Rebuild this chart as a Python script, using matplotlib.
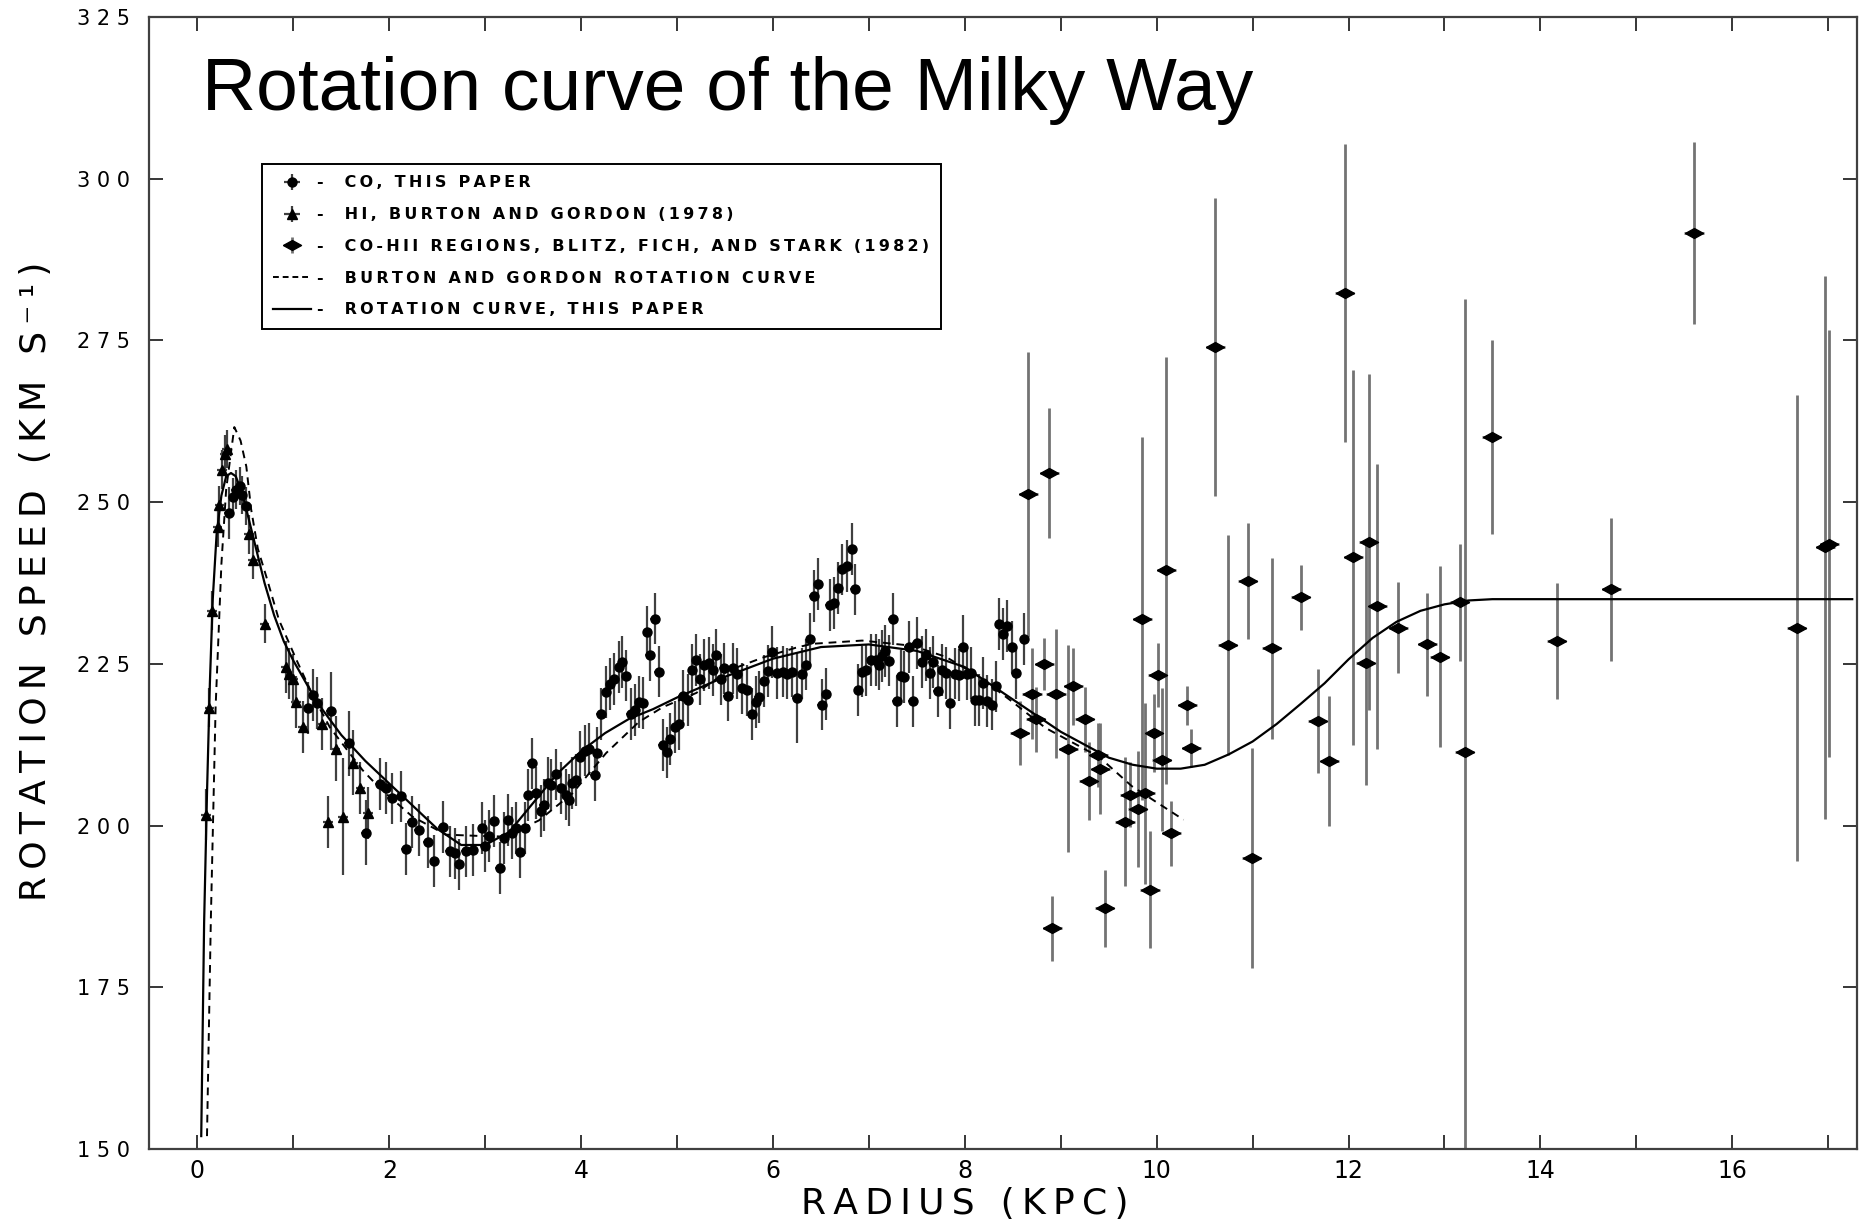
import matplotlib
matplotlib.use("Agg")
import matplotlib.pyplot as plt
from matplotlib.lines import Line2D

# Rotation curve, this paper (solid line)
curve_r = [0.04, 0.07, 0.10, 0.13, 0.16, 0.20, 0.25, 0.30, 0.35, 0.40, 0.45, 0.50,
           0.60, 0.70, 0.80, 0.90, 1.00, 1.25, 1.50, 1.75, 2.00, 2.25, 2.50, 2.75,
           3.00, 3.25, 3.50, 3.75, 4.00, 4.25, 4.50, 4.75, 5.00, 5.50, 6.00, 6.50,
           7.00, 7.50, 8.00, 8.50, 9.00, 9.50, 9.75, 10.00, 10.25, 10.50, 10.75,
           11.00, 11.25, 11.50, 11.75, 12.00, 12.25, 12.50, 12.75, 13.00, 13.25,
           13.50, 17.25]
curve_v = [152, 185, 205, 222, 235, 245, 251, 254, 254.5, 254, 252, 249.5,
           243.5, 237.5, 232.5, 228.5, 225.5, 219, 214, 210, 206.5, 203, 199.5, 197.0,
           197.0, 199.0, 203.5, 208, 211.5, 214.3, 216.5, 218, 219.8, 223, 225.8, 227.6,
           228.0, 227, 224.5, 219.5, 214.5, 210.5, 209.4, 208.8, 208.8, 209.4, 211.0,
           213, 215.7, 218.8, 222, 225.7, 229, 231.5, 233.2, 234.2, 234.8,
           235, 235]

# Burton and Gordon rotation curve (dashed line)
bg_r = [0.10, 0.14, 0.19, 0.25, 0.30, 0.385, 0.45, 0.51, 0.56, 0.63, 0.72, 0.85,
        1.03, 1.20, 1.38, 1.55, 1.72, 1.90, 2.24, 2.59, 2.94, 3.21, 3.56, 3.91,
        4.26, 4.60, 4.85, 5.20, 5.54, 5.90, 6.24, 6.41, 6.93, 7.45, 7.80, 8.15,
        8.49, 8.84, 9.19, 9.40, 9.74, 10.28]
bg_v = [152, 185.4, 218.4, 240.4, 252, 261.6, 259.5, 255.5, 248.9, 242.8, 238.4, 231.8,
        225.7, 220.2, 215.2, 211.9, 208.6, 205.8, 201.4, 198.6, 198.4, 198.3, 200.8, 205,
        211.2, 216, 218.3, 220.5, 224, 226, 227.5, 228.1, 228.6, 227.8, 226.1, 223,
        219.2, 215.1, 212.3, 210.6, 206.1, 200.9]

# CO, this paper
co_r = [0.33, 0.37, 0.40, 0.44, 0.47, 0.51, 1.15, 1.20, 1.25, 1.39, 1.58, 1.76,
        1.90, 1.97, 2.03, 2.12, 2.17, 2.24, 2.31, 2.40, 2.47, 2.56, 2.63, 2.69,
        2.73, 2.80, 2.87,
        2.97, 3.00, 3.04, 3.09, 3.15, 3.20, 3.24, 3.28, 3.32, 3.36, 3.41, 3.45,
        3.49, 3.53, 3.58, 3.61, 3.65, 3.69, 3.74, 3.79, 3.84, 3.87, 3.91, 3.95,
        3.99, 4.04, 4.08, 4.14, 4.17, 4.21, 4.26, 4.30, 4.34, 4.39, 4.43, 4.47,
        4.52, 4.56, 4.60, 4.65, 4.69, 4.72, 4.77, 4.81, 4.85, 4.89, 4.93, 4.98,
        5.02, 5.06, 5.11, 5.16, 5.20, 5.24, 5.28, 5.33, 5.37, 5.41, 5.46, 5.49,
        5.53, 5.58, 5.63, 5.68, 5.73, 5.78, 5.82, 5.85, 5.91, 5.95, 5.99, 6.04,
        6.10, 6.15, 6.20, 6.25, 6.30, 6.34, 6.39, 6.43, 6.47, 6.51, 6.55, 6.59,
        6.64, 6.68, 6.72, 6.77, 6.82, 6.85, 6.89, 6.93, 6.97, 7.02, 7.07, 7.10,
        7.14, 7.17, 7.21, 7.25, 7.29, 7.33, 7.37, 7.42, 7.46, 7.50, 7.55, 7.59,
        7.64, 7.67, 7.72, 7.76, 7.80, 7.85, 7.90, 7.94, 7.98, 8.02, 8.06, 8.11,
        8.15, 8.19, 8.23, 8.28, 8.32, 8.36, 8.40, 8.44, 8.49, 8.53, 8.62]
co_v = [248.3, 250.8, 251.9, 252.5, 251.1, 249.4, 218.2, 220.2, 219.0, 217.7, 212.7, 198.9,
        206.4, 205.8, 204.2, 204.5, 196.4, 200.6, 199.3, 197.5, 194.5, 199.8, 196.0, 195.7,
        194.0, 196.0, 196.2,
        199.6, 196.8, 198.4, 200.7, 193.4, 198.1, 200.9, 198.9, 199.6, 195.9, 199.6, 204.7,
        209.6, 205.0, 202.2, 203.2, 206.6, 206.3, 207.9, 205.8, 204.8, 204.0, 206.6, 207.1,
        210.6, 211.6, 211.8, 207.8, 211.2, 217.3, 220.7, 221.9, 222.7, 224.5, 225.3, 223.2,
        217.3, 217.9, 219.1, 218.9, 230.0, 226.4, 232.0, 223.8, 212.4, 211.3, 213.4, 215.2,
        215.7, 220.1, 219.4, 224.0, 225.6, 222.6, 224.8, 225.1, 224.0, 226.4, 222.6, 224.3,
        220.1, 224.3, 223.5, 221.2, 220.9, 217.3, 219.1, 219.9, 222.4, 223.9, 226.8, 223.6,
        223.8, 223.5, 223.8, 219.7, 223.5, 224.9, 228.8, 235.5, 237.4, 218.7, 220.3, 234.1,
        234.4, 236.7, 239.6, 240.1, 242.7, 236.5, 221.0, 223.8, 224.1, 225.6, 225.6, 224.9,
        226.2, 227.0, 225.5, 231.9, 219.2, 223.1, 223.0, 227.6, 219.2, 228.2, 225.3, 226.4,
        223.6, 225.3, 220.8, 224.1, 223.6, 218.9, 223.5, 223.3, 227.6, 223.4, 223.6, 219.4,
        219.4, 222.0, 219.3, 218.7, 221.5, 231.2, 229.6, 230.8, 227.6, 223.6, 228.8]
co_err = [4, 3, 3, 3, 3, 3, 4, 4, 4, 6, 5, 5,
          4, 4, 4, 4, 4, 4, 4, 4, 4, 4, 4, 4,
          4, 4, 4,
          4, 4, 4, 4, 4, 4, 4, 4, 4, 4, 4, 4,
          4, 4, 4, 4, 4, 4, 4, 4, 4, 4, 4, 4,
          4, 4, 4, 4, 4, 4, 4, 4, 4, 4, 4, 4,
          4, 4, 4, 4, 4, 4, 4, 4, 4, 4, 4, 4,
          4, 4, 4, 4, 4, 4, 4, 4, 4, 4, 4, 4,
          4, 4, 4, 4, 4, 4, 4, 4, 4, 4, 4, 4,
          4, 4, 4, 7, 4, 4, 4, 4, 4, 4, 4, 4,
          4, 4, 4, 4, 4, 4, 4, 4, 4, 4, 4, 4,
          4, 4, 4, 4, 4, 4, 4, 4, 4, 4, 4, 4,
          4, 4, 4, 4, 4, 4, 4, 4, 5, 4, 4, 4,
          4, 4, 4, 4, 4, 4, 4, 4, 4, 4, 4]

# HI, Burton and Gordon (1978)
hi_r = [0.09, 0.125, 0.15, 0.21, 0.23, 0.257, 0.29, 0.31, 0.54, 0.58, 0.70, 0.92,
        0.96, 1.00, 1.03, 1.10, 1.30, 1.36, 1.44, 1.52, 1.62, 1.70, 1.78]
hi_v = [201.7, 218.2, 233.2, 246.1, 249.5, 255.0, 257.4, 258.2, 245.0, 241.1, 231.2, 224.5,
        223.5, 222.6, 219.1, 215.2, 215.7, 200.6, 211.9, 201.4, 209.7, 205.8, 201.9]
hi_err = [4, 3, 3, 3, 3, 3, 3, 3, 3, 3, 3, 4,
          4, 4, 4, 4, 4, 4, 5, 9, 5, 4, 4]

# CO-HII regions, Blitz, Fich and Stark (1982)
hii_r = [8.57, 8.66, 8.70, 8.74, 8.83, 8.88, 8.91, 8.95, 9.08, 9.13, 9.25, 9.29,
         9.39, 9.41, 9.46, 9.67, 9.72, 9.80, 9.85, 9.88, 9.93, 9.97, 10.01, 10.05,
         10.10, 10.15, 10.32, 10.36, 10.61, 10.74, 10.95, 10.99, 11.20, 11.50, 11.68,
         11.80, 11.96, 12.05, 12.18, 12.21, 12.30, 12.52, 12.82, 12.95, 13.16, 13.21,
         13.49, 14.17, 14.74, 15.60, 16.67, 16.97, 17.01]
hii_v = [214.3, 251.2, 220.4, 216.4, 225.0, 254.5, 184.1, 220.4, 211.9, 221.5, 216.4, 206.9,
         210.9, 208.8, 187.2, 200.6, 204.8, 202.6, 232.0, 205.0, 190.1, 214.3, 223.3, 210.2,
         239.5, 198.8, 218.6, 212.0, 274.0, 227.9, 237.8, 195.0, 227.4, 235.3, 216.2,
         210.0, 282.3, 241.5, 225.2, 243.8, 233.9, 230.6, 228.0, 226.1, 234.5, 211.4,
         260.1, 228.5, 236.5, 291.6, 230.6, 243.0, 243.6]
hii_err = [5, 22, 7, 5, 4, 10, 5, 10, 16, 6, 5, 6,
           5, 7, 6, 10, 5, 9, 28, 14, 9, 6, 5, 11,
           33, 5, 3, 3, 23, 17, 9, 17, 14, 5, 8,
           10, 23, 29, 19, 26, 22, 7, 8, 14, 9, 70,
           15, 9, 11, 14, 36, 42, 33]

y_ticks = [150, 175, 200, 225, 250, 275, 300, 325]
x_ticks = [0, 2, 4, 6, 8, 10, 12, 14, 16]

THIN = '\u2009'


# puts a thin space between letters to get the loose spacing of the scan
def spaced(s):
    return THIN.join(s)


fig = plt.figure(figsize=(18.75, 12.28), dpi=100)
ax = fig.add_axes([0.0797, 0.0643, 0.9107, 0.9219])

flat_diamond = [(-1, 0), (0, 0.55), (1, 0), (0, -0.55), (-1, 0)]

hii = ax.errorbar(hii_r, hii_v, yerr=hii_err, xerr=0.1, fmt='none', ecolor='0.45',
                  elinewidth=2.0, capsize=0)
hii_dots, = ax.plot(hii_r, hii_v, linestyle='none', marker=flat_diamond,
                    markersize=13, color='black')
co = ax.errorbar(co_r, co_v, yerr=co_err, xerr=0.05, fmt='o', color='black',
                 ecolor='0.25', elinewidth=1.6, markersize=6.5, capsize=0)
hi = ax.errorbar(hi_r, hi_v, yerr=hi_err, xerr=0.05, fmt='^', color='black',
                 ecolor='0.25', elinewidth=1.6, markersize=7.5, capsize=0)

ax.plot(bg_r, bg_v, color='black', linestyle=(0, (4, 3)), linewidth=1.4)
ax.plot(curve_r, curve_v, color='black', linestyle='-', linewidth=1.6)

ax.set_xlim(-0.5, 17.3)
ax.set_ylim(150, 325)

ax.set_xticks(x_ticks)
ax.set_xticks(range(0, 18), minor=True)
ax.set_xticklabels([str(t) for t in x_ticks], family='DejaVu Sans', fontsize=17)
ax.set_yticks(y_ticks)
ax.set_yticklabels([' '.join(str(t)) for t in y_ticks], family='DejaVu Sans',
                   fontsize=15)
ax.tick_params(which='both', direction='in', top=True, right=True, length=10,
               width=1.3, color='0.15')
ax.tick_params(axis='x', pad=7)
ax.tick_params(axis='y', pad=14)
for s in ax.spines.values():
    s.set_linewidth(1.6)
    s.set_color('0.25')

fig.text(0.5147, 0.0195, spaced('RADIUS (KPC)'), family='DejaVu Sans', fontsize=26,
         ha='center', va='center')
fig.text(0.0192, 0.5269, spaced('ROTATION SPEED (KM S\u207b\u00b9)'),
         family='DejaVu Sans', fontsize=26, rotation=90, ha='center', va='center')

fig.text(0.108, 0.9104, 'Rotation curve of the Milky Way', family='Liberation Sans',
         fontsize=54, ha='left', va='baseline')

# legend keys: the data markers, then the two curves
handles = [co, hi, (hii, hii_dots),
           Line2D([], [], color='black', linestyle=(0, (3, 2)), linewidth=1.4),
           Line2D([], [], color='black', linestyle='-', linewidth=1.6)]
labels = ['-  CO, THIS PAPER',
          '-  HI, BURTON AND GORDON (1978)',
          '-  CO-HII REGIONS, BLITZ, FICH, AND STARK (1982)',
          '-  BURTON AND GORDON ROTATION CURVE',
          '-  ROTATION CURVE, THIS PAPER']
leg = ax.legend(handles, [spaced(l) for l in labels], loc='upper left',
                bbox_to_anchor=(0.061, 0.877), frameon=True, fancybox=False,
                edgecolor='black', framealpha=1, handlelength=2.4,
                handletextpad=0.4, labelspacing=1.05, borderpad=0.7,
                prop={'family': 'DejaVu Sans', 'size': 11.5, 'weight': 'bold'})
leg.get_frame().set_linewidth(1.4)

fig.savefig('out.png', dpi=100)
